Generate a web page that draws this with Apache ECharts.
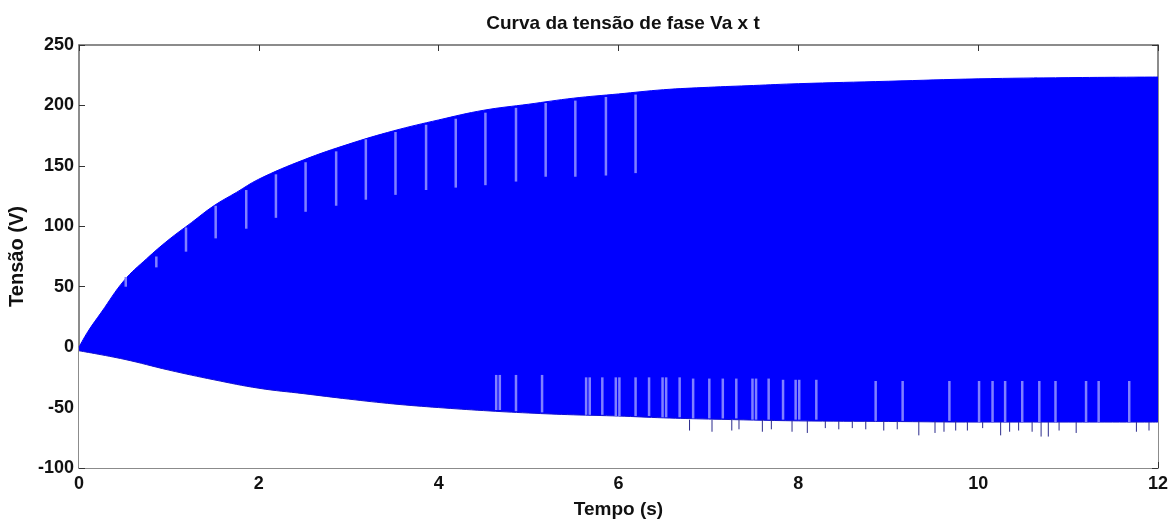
<!DOCTYPE html>
<html>
<head>
<meta charset="utf-8">
<title>Curva da tensão de fase Va x t</title>
<script src="https://cdn.jsdelivr.net/npm/echarts@6/dist/echarts.min.js"></script>
<style>
  html, body { margin: 0; padding: 0; background: #fff; }
  #main { width: 1171px; height: 521px; }
</style>
</head>
<body>
<div id="main"></div>
<script>
// envoltória superior e inferior da tensão Va
var upperEnv = [
  [0, 0], [0.1, 13], [0.25, 29], [0.5, 55], [0.75, 73], [1, 89], [1.25, 103],
  [1.5, 117], [1.75, 128], [2, 139], [2.5, 155], [3, 168], [3.5, 179],
  [4, 188], [4.5, 196], [5, 201], [5.5, 206], [6, 209.5], [6.5, 213],
  [7, 215], [7.5, 216.5], [8, 218], [9, 220], [10, 222], [11, 223], [12, 223.5]
];
var lowerEnv = [
  [0, -3], [0.5, -10], [1, -19], [1.5, -27], [2, -34], [2.5, -38.5], [3, -43],
  [3.5, -47], [4, -50], [4.5, -52.5], [5, -54.5], [5.5, -56], [6, -57],
  [6.5, -58.5], [7, -59.5], [8, -61], [9, -61.5], [10, -62], [11, -62], [12, -62]
];
// falhas claras na parte de cima: [t, topo, base]
var upperGaps = [
  [0.52, 58, 50], [0.86, 75, 66], [1.19, 99, 79], [1.52, 117, 90], [1.86, 130, 98],
  [2.19, 143, 107], [2.52, 153, 112], [2.86, 162, 117], [3.19, 172, 122],
  [3.52, 178, 126], [3.86, 184, 130], [4.19, 189, 132], [4.52, 194, 134],
  [4.86, 198, 137], [5.19, 202, 141], [5.52, 204, 141], [5.86, 207, 142], [6.19, 209, 144]
];
// falhas claras na parte de baixo: [t, topo, base]
var lowerGaps = [
  [4.64, -23, -52], [4.68, -23, -52], [4.86, -23, -53], [5.15, -23, -54],
  [5.64, -25, -56], [5.68, -25, -56], [5.82, -25, -56], [5.97, -25, -57], [6.01, -25, -57],
  [6.19, -25, -57], [6.34, -25, -57], [6.49, -25, -58], [6.53, -25, -58],
  [6.68, -25, -58], [6.83, -26, -59], [7.01, -26, -59], [7.16, -26, -59],
  [7.31, -26, -59], [7.49, -26, -60], [7.53, -26, -60], [7.67, -26, -60],
  [7.83, -27, -60], [7.97, -27, -60], [8.01, -27, -60], [8.2, -27, -60],
  [8.86, -28, -61], [9.16, -28, -61], [9.68, -28, -61], [10.01, -28, -62],
  [10.16, -28, -62], [10.3, -28, -62], [10.49, -28, -62], [10.68, -28, -62],
  [10.86, -28, -62], [11.2, -28, -62], [11.34, -28, -62], [11.68, -28, -62]
];
// picos abaixo da envoltória inferior: [t, topo, base]
var lowerSpikes = [
  [6.79, -60, -69], [7.04, -60, -70], [7.26, -60, -69], [7.34, -60, -68],
  [7.6, -60, -70], [7.7, -60, -68], [7.93, -61, -70], [8.1, -61, -71],
  [8.3, -61, -67], [8.45, -61, -68], [8.6, -61, -67], [8.75, -61, -68],
  [8.95, -61, -69], [9.1, -61, -68], [9.34, -61, -73], [9.52, -61, -71],
  [9.62, -61, -70], [9.75, -61, -69], [9.88, -62, -69], [10.05, -62, -67],
  [10.25, -62, -73], [10.35, -62, -70], [10.45, -62, -69], [10.6, -62, -70],
  [10.7, -62, -74], [10.78, -62, -74], [10.9, -62, -69], [11.09, -62, -71],
  [11.76, -62, -70], [11.9, -62, -69]
];
var xTicks = [0, 2, 4, 6, 8, 10, 12];
var yTicks = [-100, -50, 0, 50, 100, 150, 200, 250];

var myChart = echarts.init(document.getElementById('main'));

var font = 'Liberation Sans, Arial, sans-serif';
var axisCol = '#666';

function vline(color, width) {
  return function (params, api) {
    var p1 = api.coord([api.value(0), api.value(1)]);
    var p2 = api.coord([api.value(0), api.value(2)]);
    return {
      type: 'line',
      shape: { x1: p1[0], y1: p1[1], x2: p2[0], y2: p2[1] },
      style: { stroke: color, lineWidth: width }
    };
  };
}

var xBase = {
  type: 'value', min: xTicks[0], max: xTicks[xTicks.length - 1], interval: 2,
  axisLine: { onZero: false, lineStyle: { color: axisCol, width: 1.5 } },
  axisTick: { inside: true, length: 6, lineStyle: { color: '#333' } },
  splitLine: { show: false }
};
var yBase = {
  type: 'value', min: yTicks[0], max: yTicks[yTicks.length - 1], interval: 50,
  axisLine: { onZero: false, lineStyle: { color: axisCol, width: 1.5 } },
  axisTick: { inside: true, length: 6, lineStyle: { color: '#333' } },
  splitLine: { show: false }
};

myChart.setOption({
  animation: false,
  title: {
    text: 'Curva da tensão de fase Va x t',
    left: 618, top: 9, textAlign: 'center',
    textStyle: { fontFamily: font, fontSize: 19, fontWeight: 'bold', color: '#111' }
  },
  grid: { left: 79, right: 13, top: 45, bottom: 53, outerBoundsMode: 'none' },
  xAxis: [
    Object.assign({}, xBase, {
      position: 'bottom',
      name: 'Tempo (s)', nameLocation: 'middle', nameGap: 32,
      nameTextStyle: { fontFamily: font, fontSize: 19, fontWeight: 'bold', color: '#111' },
      axisLabel: { fontFamily: font, fontSize: 18, fontWeight: 'bold', color: '#111', margin: 7 }
    }),
    Object.assign({}, xBase, { position: 'top', axisLabel: { show: false } })
  ],
  yAxis: [
    Object.assign({}, yBase, {
      position: 'left',
      name: 'Tensão (V)', nameLocation: 'middle', nameGap: 50,
      nameTextStyle: { fontFamily: font, fontSize: 20, fontWeight: 'bold', color: '#111' },
      axisLabel: { fontFamily: font, fontSize: 18, fontWeight: 'bold', color: '#111', margin: 5 }
    }),
    Object.assign({}, yBase, { position: 'right', axisLabel: { show: false } })
  ],
  series: [
    {
      // preenche da envoltória superior até a base do gráfico
      type: 'line', data: upperEnv, symbol: 'none', smooth: 0.4, z: 2,
      lineStyle: { color: '#0000ff', width: 1 },
      areaStyle: { color: '#0000ff', opacity: 1, origin: 'start' }
    },
    {
      // apaga abaixo da envoltória inferior
      type: 'line', data: lowerEnv, symbol: 'none', smooth: 0.4, z: 2,
      lineStyle: { color: '#1010d0', width: 1 },
      areaStyle: { color: '#ffffff', opacity: 1, origin: 'start' }
    },
    { type: 'custom', data: lowerSpikes, renderItem: vline('#2a2a8c', 1), z: 3 },
    { type: 'custom', data: upperGaps, renderItem: vline('#8080ff', 2.5), z: 4 },
    { type: 'custom', data: lowerGaps, renderItem: vline('#8080ff', 2.5), z: 4 }
  ]
});
</script>
</body>
</html>
